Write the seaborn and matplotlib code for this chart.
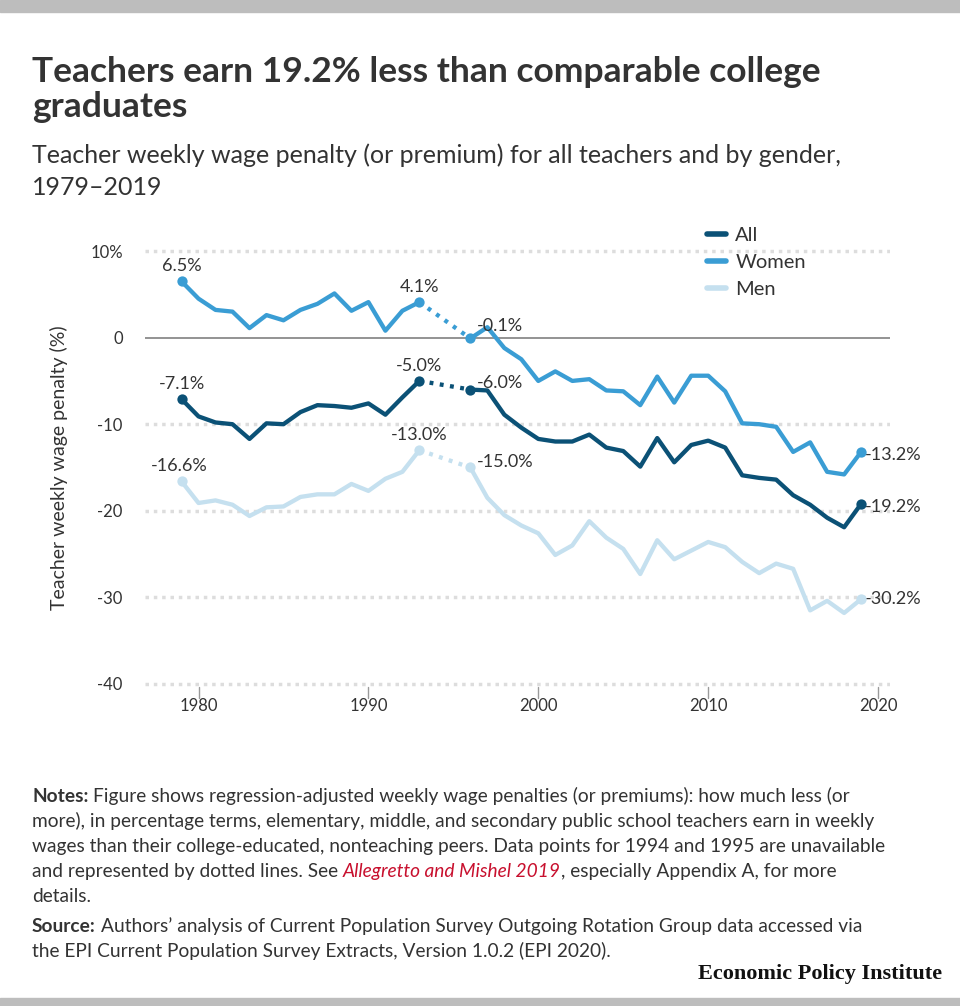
import numpy as np
import pandas as pd
import matplotlib
matplotlib.use("Agg")
import matplotlib.pyplot as plt
import seaborn as sns

# data (1994 and 1995 missing)
years_a = list(range(1979, 1994))
years_b = list(range(1996, 2020))

all_a = [-7.1, -9.1, -9.8, -10.0, -11.7, -9.9, -10.0, -8.6, -7.8, -7.9, -8.1, -7.6, -8.9, -6.9, -5.0]
all_b = [-6.0, -6.1, -8.9, -10.4, -11.7, -12.0, -12.0, -11.2, -12.7, -13.1, -14.9, -11.6, -14.4,
         -12.4, -11.9, -12.7, -15.9, -16.2, -16.4, -18.2, -19.3, -20.8, -21.9, -19.2]
women_a = [6.5, 4.5, 3.2, 3.0, 1.1, 2.6, 2.0, 3.2, 3.9, 5.1, 3.1, 4.1, 0.8, 3.1, 4.1]
women_b = [-0.1, 1.2, -1.2, -2.5, -5.0, -3.9, -5.0, -4.8, -6.1, -6.2, -7.8, -4.5, -7.5,
           -4.4, -4.4, -6.2, -9.9, -10.0, -10.3, -13.2, -12.1, -15.5, -15.8, -13.2]
men_a = [-16.6, -19.1, -18.8, -19.3, -20.6, -19.6, -19.5, -18.4, -18.1, -18.1, -16.9, -17.7, -16.3, -15.5, -13.0]
men_b = [-15.0, -18.5, -20.5, -21.7, -22.6, -25.1, -24.0, -21.2, -23.1, -24.4, -27.3, -23.4, -25.6,
         -24.6, -23.6, -24.2, -25.9, -27.2, -26.1, -26.7, -31.5, -30.4, -31.8, -30.2]

series = ["All", "Women", "Men"]
colors = {"All": "#0b5176", "Women": "#3a9dd4", "Men": "#c5e0ef"}

rows = []
for name, a, b in [("All", all_a, all_b), ("Women", women_a, women_b), ("Men", men_a, men_b)]:
    for y, v in zip(years_a, a):
        rows.append((name, y, v, "a"))
    for y, v in zip(years_b, b):
        rows.append((name, y, v, "b"))
df = pd.DataFrame(rows, columns=["series", "year", "value", "period"])

sns.set_theme(style="white")
plt.rcParams["font.family"] = ["Lato", "DejaVu Sans"]
txt_color = "#333333"

fig = plt.figure(figsize=(9.6, 10.06), dpi=100)
ax = fig.add_axes([145 / 960, 1 - 688.3 / 1006, 745 / 960, 441.6 / 1006])

# gridlines
for gy in [10, -10, -20, -30, -40]:
    ax.axhline(gy, color="#dddddd", lw=2.5, ls=(0, (1, 1.4)), zorder=0)
ax.axhline(0, color="#8a8a8a", lw=1.3, zorder=1)

for name in series:
    sub = df[df.series == name]
    sns.lineplot(data=sub, x="year", y="value", units="period", estimator=None,
                 color=colors[name], lw=3.1, ax=ax, zorder=3, legend=False)
    # dotted bridge over the missing years
    bridge = sub[sub.year.isin([1993, 1996])]
    ax.plot(bridge.year, bridge.value, color=colors[name], lw=3.1, ls=(0, (0.9, 1.5)), zorder=3)
    marks = sub[sub.year.isin([1979, 1993, 1996, 2019])]
    ax.scatter(marks.year, marks.value, s=55, color=colors[name], zorder=4, linewidths=0)

# point labels
lab = dict(fontsize=13, color=txt_color)
def val(name, year):
    return df[(df.series == name) & (df.year == year)].value.iloc[0]

def fmt(v):
    return f"{v:.1f}%"

for name in series:
    for yr in [1979, 1993]:
        v = val(name, yr)
        dx = -2 if (name == "Men" and yr == 1979) else 0
        ax.annotate(fmt(v), (yr, v), xytext=(dx, 5), textcoords="offset points",
                    ha="center", va="bottom", **lab)
    v = val(name, 1996)
    up = {"All": 5, "Women": 9, "Men": 4}[name]
    ax.annotate(fmt(v), (1996, v), xytext=(5, up), textcoords="offset points",
                ha="left", va="center", **lab)
    v = val(name, 2019)
    ax.annotate(fmt(v), (2019, v), xytext=(3, -2 if name != "Men" else 0), textcoords="offset points",
                ha="left", va="center", **lab)

ax.set_xlim(1976.85, 2020.7)
ax.set_ylim(-40.5, 10.5)
ax.set_yticks([10, 0, -10, -20, -30, -40])
ax.set_yticklabels(["10%", "0", "-10", "-20", "-30", "-40"])
ax.set_xticks([1980, 1990, 2000, 2010, 2020])
ax.tick_params(axis="y", length=0, pad=16, labelsize=12, labelcolor=txt_color)
ax.tick_params(axis="x", length=0, pad=7, labelsize=12, labelcolor=txt_color)
for xt in [1980, 1990, 2000, 2010, 2020]:
    ax.plot([xt, xt], [-40.3, -41.6], color="#9a9a9a", lw=1, clip_on=False, zorder=2)
for s in ax.spines.values():
    s.set_visible(False)
ax.set_xlabel("")
ax.set_ylabel("Teacher weekly wage penalty (%)", fontsize=14, color=txt_color)
ax.yaxis.set_label_coords(-0.103, 0.50)

handles = [plt.Line2D([], [], color=colors[n], lw=4) for n in series]
fig.legend(handles, series, loc="upper left", bbox_to_anchor=(707 / 960, 1 - 227 / 1006),
           bbox_transform=fig.transFigure, frameon=False, fontsize=14.5, handlelength=0.95,
           handletextpad=0.45, labelspacing=0.5, borderpad=0, borderaxespad=0)
for t in fig.legends[0].get_texts():
    t.set_color(txt_color)

# titles
fig.text(32 / 960, 1 - 82 / 1006, "Teachers earn 19.2% less than comparable college",
         fontsize=25.5, fontweight="bold", color=txt_color, va="baseline")
fig.text(32 / 960, 1 - 117 / 1006, "graduates",
         fontsize=25.5, fontweight="bold", color=txt_color, va="baseline")
fig.text(32 / 960, 1 - 163 / 1006, "Teacher weekly wage penalty (or premium) for all teachers and by gender,",
         fontsize=18, color=txt_color, va="baseline")
fig.text(32 / 960, 1 - 195 / 1006, "1979\u20132019", fontsize=18, color=txt_color, va="baseline")

# notes with mixed styles
renderer = fig.canvas.get_renderer()
note_size = 13.8

def text_w(s, **kw):
    t = fig.text(0, 0, s, fontsize=note_size, **kw)
    w = t.get_window_extent(renderer).width
    t.remove()
    return w

space_w = text_w("a a") - text_w("aa")

def runs(ypix, parts):
    x = 32.0
    for s, kw in parts:
        lead = len(s) - len(s.lstrip(" "))
        x += lead * space_w
        core = s.strip(" ")
        style = {"color": txt_color}
        style.update(kw)
        t = fig.text(x / 960, 1 - ypix / 1006, core, fontsize=note_size,
                     va="baseline", **style)
        x += t.get_window_extent(renderer).width
        x += (len(s) - len(s.rstrip(" "))) * space_w

B = {"fontweight": "bold"}
R = {}
I = {"style": "italic", "color": "#c8102e"}
runs(802, [("Notes: ", B), ("Figure shows regression-adjusted weekly wage penalties (or premiums): how much less (or", R)])
runs(827, [("more), in percentage terms, elementary, middle, and secondary public school teachers earn in weekly", R)])
runs(852, [("wages than their college-educated, nonteaching peers. Data points for 1994 and 1995 are unavailable", R)])
runs(877, [("and represented by dotted lines. See ", R), ("Allegretto and Mishel 2019", I),
           (", especially Appendix A, for more", R)])
runs(902, [("details.", R)])
runs(932, [("Source: ", B), ("Authors\u2019 analysis of Current Population Survey Outgoing Rotation Group data accessed via", R)])
runs(957, [("the EPI Current Population Survey Extracts, Version 1.0.2 (EPI 2020).", R)])

fig.text(942 / 960, 1 - 979 / 1006, "Economic Policy Institute", fontsize=16, fontweight="bold",
         family=["Liberation Serif", "DejaVu Serif"], color="#111111", ha="right", va="baseline")

# grey bands top and bottom
fig.patches.append(plt.Rectangle((0, 1 - 12 / 1006), 1, 12 / 1006, transform=fig.transFigure,
                                 color="#bdbdbd", zorder=0))
fig.patches.append(plt.Rectangle((0, 0), 1, 8 / 1006, transform=fig.transFigure,
                                 color="#bdbdbd", zorder=0))

fig.savefig("out.png", dpi=100)
